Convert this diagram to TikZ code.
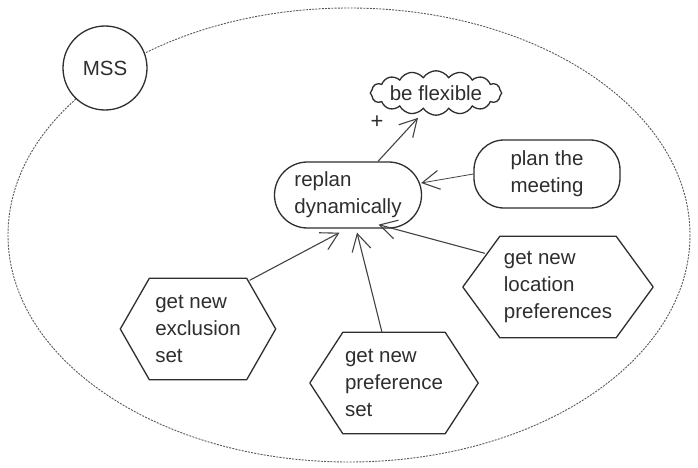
\documentclass[tikz,border=0pt]{standalone}
\usepackage{fontspec}
\setmainfont{Liberation Sans}
\usetikzlibrary{shapes.symbols,shapes.misc,arrows.meta,calc}
\definecolor{ink}{HTML}{2E2E2E}
\tikzset{
  lbl/.style={font=\fontsize{20.5}{27}\selectfont, text=ink, align=left, inner sep=0pt},
  hexnode/.style={lbl, minimum height=101pt},
  hexline/.style={draw=ink, line width=1.3pt, line join=round},
  conn/.style={draw=ink!90, line width=1.1pt, -{Straight Barb[length=17pt,width=19pt,line width=1.1pt]}},
}
\begin{document}
\begin{tikzpicture}[x=1pt,y=-1pt]
\useasboundingbox (0,0) rectangle (698,468);
\fill[white] (0,0) rectangle (698,468);
% boundary
\draw[ink!80, line width=0.9pt, dash pattern=on 2pt off 1.2pt] (349,235) ellipse [x radius=341, y radius=227];
% MSS
\node[circle, draw=ink, fill=white, line width=1.3pt, minimum size=84pt, lbl, align=center] (mss) at (105,68) {MSS};
% be flexible
\node[cloud, draw=ink, line width=1.3pt, cloud puffs=16, cloud puff arc=115, aspect=4.2, minimum width=126pt, minimum height=34pt, inner sep=0pt, lbl, align=center] (flex) at (436,93) {be flexible};
% replan
\node[rounded rectangle, draw=ink, line width=1.3pt, minimum width=147pt, minimum height=66pt, lbl] (replan) at (348,195) {replan\\dynamically};
% plan the meeting
\node[rectangle, rounded corners=30pt, draw=ink, line width=1.3pt, minimum width=146pt, minimum height=68pt, lbl] (plan) at (547,174) {plan the\\meeting};
% hexagons
\node[hexnode, minimum width=155pt] (ex) at (198,329) {get new\\exclusion\\set};
\node[hexnode, minimum width=168pt] (pref) at (394,383) {get new\\preference\\set};
\node[hexnode, minimum width=190pt] (loc) at (558,287) {get new\\location\\preferences};
\foreach \n/\d in {ex/29, pref/33, loc/37}{
  \draw[hexline] ($(\n.north west)+(\d,0)$) -- ($(\n.north east)+(-\d,0)$) -- (\n.east)
    -- ($(\n.south east)+(-\d,0)$) -- ($(\n.south west)+(\d,0)$) -- (\n.west) -- cycle;
}
% connectors
\draw[conn] ($(replan.north)+(30,0)$) -- ($(flex.south)+(-18,2)$);
\node[lbl, font=\fontsize{22}{24}\selectfont] (plus) at ($(flex)+(-59,29)$) {+};
\draw[conn, line width=0.8pt] (plan.west) -- ($(replan.east)+(-1,-12)$);
\draw[conn] ($(ex.north east)+(-26,2)$) -- ($(replan.south west)+(32,4)$);
\draw[conn] ($(pref.north)+(-12,0)$) -- ($(replan.south)+(9,4)$);
\draw[conn] ($(loc.north west)+(22,17)$) -- ($(replan.south east)+(-10,-4)$);
\end{tikzpicture}
\end{document}
